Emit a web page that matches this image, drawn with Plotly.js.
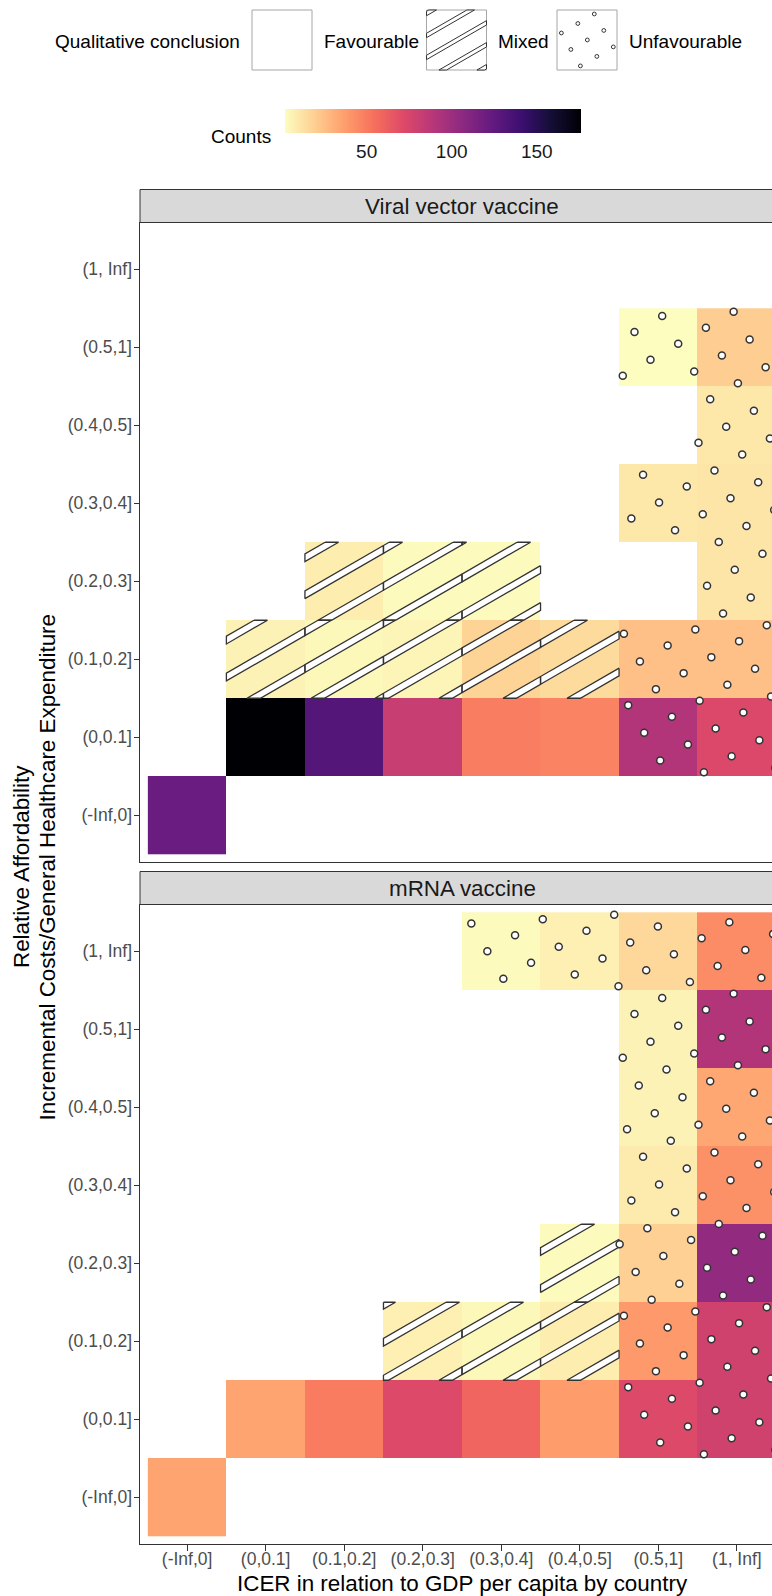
<!DOCTYPE html>
<html><head><meta charset="utf-8">
<script src="https://cdn.plot.ly/plotly-3.0.1.min.js"></script>
<style>html,body{margin:0;padding:0;overflow:hidden;background:#fff;} #chart{width:800px;height:1596px;}</style>
</head><body><div id="chart"></div>
<script>
// ---------------- data ----------------
const icerCats = ["(-Inf,0]", "(0,0.1]", "(0.1,0.2]", "(0.2,0.3]", "(0.3,0.4]", "(0.4,0.5]", "(0.5,1]", "(1, Inf]"];
const affordCats = ["(-Inf,0]", "(0,0.1]", "(0.1,0.2]", "(0.2,0.3]", "(0.3,0.4]", "(0.4,0.5]", "(0.5,1]", "(1, Inf]"];
const conclusionLevels = ["Favourable", "Mixed", "Unfavourable"];
const panelTitles = ["Viral vector vaccine", "mRNA vaccine"];

const viralIcer = ["(-Inf,0]", "(0,0.1]", "(0.1,0.2]", "(0.2,0.3]", "(0.3,0.4]", "(0.4,0.5]", "(0.5,1]", "(1, Inf]",
  "(0,0.1]", "(0.1,0.2]", "(0.2,0.3]", "(0.3,0.4]", "(0.4,0.5]", "(0.5,1]", "(1, Inf]",
  "(0.1,0.2]", "(0.2,0.3]", "(0.3,0.4]", "(1, Inf]",
  "(0.5,1]", "(1, Inf]", "(1, Inf]", "(0.5,1]", "(1, Inf]"];
const viralAfford = ["(-Inf,0]", "(0,0.1]", "(0,0.1]", "(0,0.1]", "(0,0.1]", "(0,0.1]", "(0,0.1]", "(0,0.1]",
  "(0.1,0.2]", "(0.1,0.2]", "(0.1,0.2]", "(0.1,0.2]", "(0.1,0.2]", "(0.1,0.2]", "(0.1,0.2]",
  "(0.2,0.3]", "(0.2,0.3]", "(0.2,0.3]", "(0.2,0.3]",
  "(0.3,0.4]", "(0.3,0.4]", "(0.4,0.5]", "(0.5,1]", "(0.5,1]"];
const viralCounts = [121, 176, 130, 82, 49, 47, 91, 73,
  6, 4, 5, 18, 15, 25, 25,
  8, 3, 3, 11,
  10, 11, 10, 2, 20];
const viralConclusion = ["Favourable", "Favourable", "Favourable", "Favourable", "Favourable", "Favourable", "Unfavourable", "Unfavourable",
  "Mixed", "Mixed", "Mixed", "Mixed", "Mixed", "Unfavourable", "Unfavourable",
  "Mixed", "Mixed", "Mixed", "Unfavourable",
  "Unfavourable", "Unfavourable", "Unfavourable", "Unfavourable", "Unfavourable"];

const mrnaIcer = ["(-Inf,0]", "(0,0.1]", "(0.1,0.2]", "(0.2,0.3]", "(0.3,0.4]", "(0.4,0.5]", "(0.5,1]", "(1, Inf]",
  "(0.2,0.3]", "(0.3,0.4]", "(0.4,0.5]", "(0.5,1]", "(1, Inf]",
  "(0.4,0.5]", "(0.5,1]", "(1, Inf]",
  "(0.5,1]", "(1, Inf]", "(0.5,1]", "(1, Inf]", "(0.5,1]", "(1, Inf]",
  "(0.3,0.4]", "(0.4,0.5]", "(0.5,1]", "(1, Inf]"];
const mrnaAfford = ["(-Inf,0]", "(0,0.1]", "(0,0.1]", "(0,0.1]", "(0,0.1]", "(0,0.1]", "(0,0.1]", "(0,0.1]",
  "(0.1,0.2]", "(0.1,0.2]", "(0.1,0.2]", "(0.1,0.2]", "(0.1,0.2]",
  "(0.2,0.3]", "(0.2,0.3]", "(0.2,0.3]",
  "(0.3,0.4]", "(0.3,0.4]", "(0.4,0.5]", "(0.4,0.5]", "(0.5,1]", "(0.5,1]",
  "(1, Inf]", "(1, Inf]", "(1, Inf]", "(1, Inf]"];
const mrnaCounts = [35, 35, 50, 72, 59, 38, 72, 78,
  7, 4, 8, 39, 78,
  3, 19, 104,
  9, 42, 6, 34, 6, 91,
  3, 7, 16, 44];
const mrnaConclusion = ["Favourable", "Favourable", "Favourable", "Favourable", "Favourable", "Favourable", "Unfavourable", "Unfavourable",
  "Mixed", "Mixed", "Mixed", "Unfavourable", "Unfavourable",
  "Mixed", "Unfavourable", "Unfavourable",
  "Unfavourable", "Unfavourable", "Unfavourable", "Unfavourable", "Unfavourable", "Unfavourable",
  "Unfavourable", "Unfavourable", "Unfavourable", "Unfavourable"];

// ---------------- geometry / style ----------------
const W = 800, H = 1596;
const FONT = "Liberation Sans, Arial, Helvetica, sans-serif";
const panelLeft = 140, panelRight = 784;
const panelBoxes = [{top: 222.5, bottom: 862}, {top: 904.5, bottom: 1544}];
const stripH = 33;
const xRange = [-0.6, 7.6], yRange = [-0.6, 7.6];
const magmaRev = [[0, "#FCFDBF"], [0.1, "#FECF92"], [0.2, "#FE9F6D"], [0.3, "#F7705C"], [0.4, "#DE4968"], [0.5, "#B73779"],
  [0.6, "#8C2981"], [0.7, "#641A80"], [0.8, "#3B0F70"], [0.9, "#140E36"], [1, "#000004"]];
const patColor = "#333333";
const ANG = Math.PI / 6;
const U = [Math.cos(ANG), -Math.sin(ANG)];
const N = [Math.sin(ANG), Math.cos(ANG)];
const PX = v => v / W, PY = v => 1 - v / H;
const TICKFONT = {size: 17.5, color: "#4D4D4D", family: FONT};

function clip(poly, nx, ny, c) {
  const out = [];
  for (let i = 0; i < poly.length; i++) {
    const P = poly[i], Q = poly[(i + 1) % poly.length];
    const fp = nx * P[0] + ny * P[1] - c, fq = nx * Q[0] + ny * Q[1] - c;
    if (fp <= 0) out.push(P);
    if ((fp < 0 && fq > 0) || (fp > 0 && fq < 0)) {
      const t = fp / (fp - fq);
      out.push([P[0] + t * (Q[0] - P[0]), P[1] + t * (Q[1] - P[1])]);
    }
  }
  return out;
}
function stripePolys(x0, y0, x1, y1, o, s, w) {
  const rect = [[x0, y0], [x1, y0], [x1, y1], [x0, y1]];
  const vals = rect.map(p => N[0] * (p[0] - o[0]) + N[1] * (p[1] - o[1]));
  const jmin = Math.floor((Math.min(...vals) - w) / s), jmax = Math.ceil((Math.max(...vals) + w) / s);
  const base = N[0] * o[0] + N[1] * o[1];
  const polys = [];
  for (let j = jmin; j <= jmax; j++) {
    const c0 = base + j * s;
    let p = clip(rect, N[0], N[1], c0 + w / 2);
    p = clip(p, -N[0], -N[1], -(c0 - w / 2));
    if (p.length >= 3) polys.push(p);
  }
  return polys;
}
function dotCentres(x0, y0, x1, y1, o, s) {
  const rect = [[x0, y0], [x1, y0], [x1, y1], [x0, y1]];
  const ms = rect.map(p => (U[0] * (p[0] - o[0]) + U[1] * (p[1] - o[1])) / s);
  const ns = rect.map(p => (N[0] * (p[0] - o[0]) + N[1] * (p[1] - o[1])) / s);
  const pts = [];
  for (let m = Math.floor(Math.min(...ms)) - 1; m <= Math.ceil(Math.max(...ms)) + 1; m++)
    for (let n = Math.floor(Math.min(...ns)) - 1; n <= Math.ceil(Math.max(...ns)) + 1; n++) {
      const x = o[0] + s * (m * U[0] + n * N[0]), y = o[1] + s * (m * U[1] + n * N[1]);
      if (x >= x0 && x < x1 && y >= y0 && y < y1) pts.push([x, y]);
    }
  return pts;
}

// pattern parameters (panel-relative pixels)
const panelSpacing = 32, panelDensity = 0.21;
const stripeOrigin = [86, 417.8], dotOrigin = [522.2, 93.5];

const traces = [];
const panelsData = [
  {icer: viralIcer, afford: viralAfford, counts: viralCounts, concl: viralConclusion},
  {icer: mrnaIcer, afford: mrnaAfford, counts: mrnaCounts, concl: mrnaConclusion}
];
panelsData.forEach((d, p) => {
  const xa = p === 0 ? "x" : "x2", ya = p === 0 ? "y" : "y2";
  const xs = d.icer.map(c => icerCats.indexOf(c));
  const ys = d.afford.map(c => affordCats.indexOf(c));
  traces.push({type: "heatmap", x: xs, y: ys, z: d.counts, coloraxis: "coloraxis", xaxis: xa, yaxis: ya,
    hoverinfo: "skip", zsmooth: false});
  const box = panelBoxes[p];
  const kx = (panelRight - panelLeft) / (xRange[1] - xRange[0]);
  const ky = (box.bottom - box.top) / (yRange[1] - yRange[0]);
  const toX = rx => xRange[0] + rx / kx, toY = ry => yRange[1] - ry / ky;
  const sx = [], sy = [], dx = [], dy = [];
  xs.forEach((xi, i) => {
    const yi = ys[i];
    const rx0 = (xi - 0.5 - xRange[0]) * kx, rx1 = (xi + 0.5 - xRange[0]) * kx;
    const ry0 = (yRange[1] - (yi + 0.5)) * ky, ry1 = (yRange[1] - (yi - 0.5)) * ky;
    if (d.concl[i] === "Mixed") {
      stripePolys(rx0, ry0, rx1, ry1, stripeOrigin, panelSpacing, panelSpacing * panelDensity).forEach(poly => {
        poly.concat([poly[0]]).forEach(pt => { sx.push(toX(pt[0])); sy.push(toY(pt[1])); });
        sx.push(null); sy.push(null);
      });
    } else if (d.concl[i] === "Unfavourable") {
      dotCentres(rx0, ry0, rx1, ry1, dotOrigin, panelSpacing).forEach(pt => { dx.push(toX(pt[0])); dy.push(toY(pt[1])); });
    }
  });
  traces.push({type: "scatter", mode: "lines", x: sx, y: sy, fill: "toself", fillcolor: "#FFFFFF",
    line: {color: patColor, width: 1.3}, xaxis: xa, yaxis: ya, hoverinfo: "skip", connectgaps: false});
  traces.push({type: "scatter", mode: "markers", x: dx, y: dy, xaxis: xa, yaxis: ya, hoverinfo: "skip",
    marker: {symbol: "circle", size: 7, color: "#FFFFFF", line: {color: patColor, width: 1.5}}});
});

// ---------------- layout ----------------
const tickIdx = icerCats.map((c, i) => i);
const axBase = {showgrid: false, zeroline: false, showline: true, mirror: true, linecolor: "#333333", linewidth: 1,
  fixedrange: true};
const yTick = {tickvals: tickIdx, ticktext: affordCats, ticks: "outside", ticklen: 5.5, tickcolor: "#333333", tickwidth: 1,
  tickfont: TICKFONT, ticklabelstandoff: -2};
const layout = {
  width: W, height: H, margin: {l: 0, r: 0, t: 0, b: 0}, paper_bgcolor: "#FFFFFF", plot_bgcolor: "#FFFFFF",
  showlegend: false, font: {family: FONT, color: "#000000"},
  xaxis: Object.assign({}, axBase, {domain: [PX(panelLeft), PX(panelRight)], range: xRange, anchor: "y",
    tickvals: tickIdx, showticklabels: false, ticks: ""}),
  yaxis: Object.assign({}, axBase, yTick, {domain: [PY(panelBoxes[0].bottom), PY(panelBoxes[0].top)], range: yRange, anchor: "x"}),
  xaxis2: Object.assign({}, axBase, {domain: [PX(panelLeft), PX(panelRight)], range: xRange, anchor: "y2",
    tickvals: tickIdx, ticktext: icerCats, ticks: "outside", ticklen: 5.5, tickcolor: "#333333", tickwidth: 1,
    tickfont: TICKFONT, ticklabelstandoff: -7}),
  yaxis2: Object.assign({}, axBase, yTick, {domain: [PY(panelBoxes[1].bottom), PY(panelBoxes[1].top)], range: yRange, anchor: "x2"}),
  coloraxis: {colorscale: magmaRev,
    colorbar: {orientation: "h", x: PX(285), xanchor: "left", y: PY(109), yanchor: "top", xref: "paper", yref: "paper",
      len: 296, lenmode: "pixels", thickness: 24, thicknessmode: "pixels", outlinewidth: 0, xpad: 0, ypad: 0,
      tickvals: [50, 100, 150], ticks: "outside", ticklen: 3, tickcolor: "rgba(0,0,0,0)",
      tickfont: {size: 19, color: "#1A1A1A", family: FONT}}},
  shapes: [], annotations: []
};

// strips
panelBoxes.forEach((b, p) => {
  layout.shapes.push({type: "rect", xref: "paper", yref: "paper", x0: PX(panelLeft), x1: PX(panelRight),
    y0: PY(b.top), y1: PY(b.top - stripH), fillcolor: "#D9D9D9", line: {color: "#333333", width: 1}, layer: "above"});
  layout.annotations.push({xref: "paper", yref: "paper", x: PX((panelLeft + panelRight) / 2), y: PY(b.top - stripH / 2),
    text: panelTitles[p], showarrow: false, xanchor: "center", yanchor: "middle",
    font: {size: 22.4, color: "#1A1A1A", family: FONT}});
});

// colorbar inner white ticks (like ggplot)
const allCounts = viralCounts.concat(mrnaCounts);
const cmin = Math.min(...allCounts), cmax = Math.max(...allCounts);
[50, 100, 150].forEach(v => {
  const x = 285 + (v - cmin) / (cmax - cmin) * 296;
  [[109, 113.8], [128.2, 133]].forEach(([a, b]) => layout.shapes.push({type: "line", xref: "paper", yref: "paper",
    x0: PX(x), x1: PX(x), y0: PY(a), y1: PY(b), line: {color: "#FFFFFF", width: 1}}));
});
layout.annotations.push({xref: "paper", yref: "paper", x: PX(272.5), y: PY(136), text: "Counts", showarrow: false,
  xanchor: "right", yanchor: "middle", font: {size: 19, color: "#000000", family: FONT}});

// qualitative legend
layout.annotations.push({xref: "paper", yref: "paper", x: PX(53), y: PY(42), text: "Qualitative conclusion", showarrow: false,
  xanchor: "left", yanchor: "middle", font: {size: 19, color: "#000000", family: FONT}});
const keyBoxes = [{x: 252, label: 322}, {x: 426.5, label: 496}, {x: 557, label: 627}];
const keyTop = 10, keySize = 60, keySpacing = 19;
conclusionLevels.forEach((lvl, k) => {
  const kb = keyBoxes[k];
  const x0 = kb.x, x1 = kb.x + keySize, y0 = keyTop, y1 = keyTop + keySize;
  layout.shapes.push({type: "rect", xref: "paper", yref: "paper", x0: PX(x0), x1: PX(x1), y0: PY(y1), y1: PY(y0),
    fillcolor: "#FFFFFF", line: {color: "#A6A6A6", width: 1}});
  if (lvl === "Mixed") {
    stripePolys(x0, y0, x1, y1, [x0, 35.5], keySpacing, keySpacing * 0.2).forEach(poly => {
      const path = poly.map((pt, i) => (i ? "L" : "M") + PX(pt[0]).toFixed(5) + "," + PY(pt[1]).toFixed(5)).join(" ") + " Z";
      layout.shapes.push({type: "path", xref: "paper", yref: "paper", path: path, fillcolor: "#FFFFFF",
        line: {color: patColor, width: 1}});
    });
  } else if (lvl === "Unfavourable") {
    const r = keySpacing * 0.2 / 2;
    dotCentres(x0 + 1, y0 + 1, x1 - 1, y1 - 1, [594.3, 14], keySpacing).forEach(pt => {
      layout.shapes.push({type: "circle", xref: "paper", yref: "paper", x0: PX(pt[0] - r), x1: PX(pt[0] + r),
        y0: PY(pt[1] + r), y1: PY(pt[1] - r), fillcolor: "#FFFFFF", line: {color: patColor, width: 1}});
    });
  }
  layout.annotations.push({xref: "paper", yref: "paper", x: PX(kb.label), y: PY(42), text: lvl, showarrow: false,
    xanchor: "left", yanchor: "middle", font: {size: 19, color: "#000000", family: FONT}});
});

// axis titles
layout.annotations.push({xref: "paper", yref: "paper", x: PX((panelLeft + panelRight) / 2), y: PY(1583),
  text: "ICER in relation to GDP per capita by country", showarrow: false, xanchor: "center", yanchor: "middle",
  font: {size: 22.4, color: "#000000", family: FONT}});
layout.annotations.push({xref: "paper", yref: "paper", x: PX(21), y: PY(867), text: "Relative Affordability",
  textangle: -90, showarrow: false, xanchor: "center", yanchor: "middle", font: {size: 22.4, color: "#000000", family: FONT}});
layout.annotations.push({xref: "paper", yref: "paper", x: PX(46.5), y: PY(867),
  text: "Incremental Costs/General Healthcare Expenditure", textangle: -90, showarrow: false,
  xanchor: "center", yanchor: "middle", font: {size: 22.4, color: "#000000", family: FONT}});

Plotly.newPlot("chart", traces, layout, {staticPlot: true, displayModeBar: false});
</script>
</body></html>
